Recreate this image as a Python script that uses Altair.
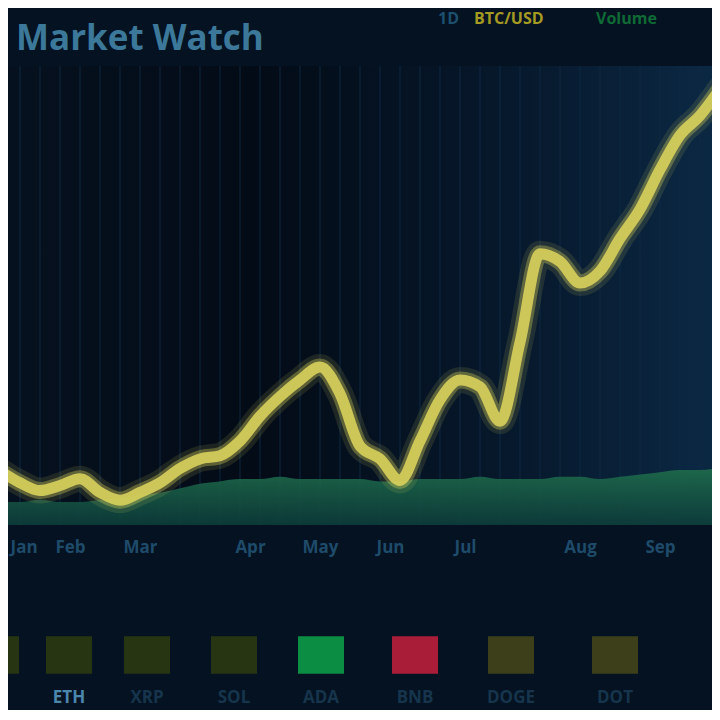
import altair as alt
import pandas as pd

# ---------------- data ----------------
chart_title = "Market Watch"

days = list(range(37))
price = [11.8, 9.2, 7.5, 8.6, 10.1, 7.1, 5.4, 7.1, 9.2, 12.3, 14.4, 15.1, 18.3,
         23.7, 28.0, 31.6, 34.4, 28.6, 17.2, 14.4, 9.7, 18.3, 27.3, 31.6, 30.1,
         22.6, 39.8, 59.1, 57.4, 52.7, 55.3, 62.4, 68.8, 77.4, 84.9, 89.2, 95.0]
volume = [5.0, 5.0, 5.5, 5.0, 5.0, 5.5, 6.0, 6.5, 7.0, 8.0, 9.0, 9.5, 10.0,
          10.0, 10.5, 10.0, 10.0, 10.0, 10.0, 9.5, 9.5, 10.0, 10.0, 10.0, 10.5,
          10.0, 10.0, 10.0, 10.5, 10.5, 10.0, 10.5, 11.0, 11.5, 12.0, 12.0, 12.5]

tick_days = [0.5, 3.5, 7, 12.5, 16, 19.5, 23.25, 29, 33]
tick_labels = ["Jan", "Feb", "Mar", "Apr", "May", "Jun", "Jul", "Aug", "Sep"]

header_names = ["1D", "BTC/USD", "Volume"]
header_days = [21.9, 23.7, 29.8]

signal_names = ["BTC", "ETH", "XRP", "SOL", "ADA", "BNB", "DOGE", "DOT"]
signal_days = [-0.2, 3.45, 7.35, 11.7, 16.05, 20.75, 25.55, 30.75]
signal_state = ["weak", "weak", "weak", "weak", "up", "down", "flat", "flat"]

# ---------------- chart ----------------
series = pd.DataFrame({"day": days, "price": price, "volume": volume})
ticks_js = "[" + ",".join(str(t) for t in tick_days) + "]"
labels_js = "[" + ",".join("'" + t + "'" for t in tick_labels) + "]"

x_scale = alt.Scale(domain=[0.4, 35.6], nice=False, zero=False)
y_scale = alt.Scale(domain=[0, 100], nice=False, zero=False)
x_axis = alt.Axis(values=tick_days, labelExpr=f"{labels_js}[indexof({ticks_js}, datum.value)]",
                  title=None, domain=False, ticks=False, grid=False,
                  labelColor="#1f4b6a", labelFontSize=17, labelFontWeight="bold",
                  labelFont="Open Sans", labelPadding=14, labelFlush=20)
x_enc = alt.X("day:Q", scale=x_scale, axis=x_axis)

bg = alt.Chart(pd.DataFrame({"k": [0]})).mark_rect(
    color=alt.Gradient(gradient="linear", x1=0, y1=0, x2=1, y2=0,
                       stops=[alt.GradientStop(color="#06111f", offset=0),
                              alt.GradientStop(color="#030b16", offset=0.35),
                              alt.GradientStop(color="#071a2e", offset=0.75),
                              alt.GradientStop(color="#0b2843", offset=1)])
).encode(x=alt.value(0), x2=alt.value(704), y=alt.value(0), y2=alt.value(459))

grid = alt.Chart(pd.DataFrame({"day": days})).mark_rule(
    color="#0f2b44", strokeWidth=2, opacity=0.45, clip=True
).encode(x=x_enc)

area = alt.Chart(series).mark_area(
    interpolate="monotone", clip=True, opacity=0.9,
    color=alt.Gradient(gradient="linear", x1=0, y1=0, x2=0, y2=1,
                       stops=[alt.GradientStop(color="#1f6e4c", offset=0),
                              alt.GradientStop(color="#0d3d3a", offset=1)])
).encode(x=x_enc, y=alt.Y("volume:Q", scale=y_scale, axis=None))

def price_line(width, opacity, color):
    return alt.Chart(series).mark_line(
        interpolate="monotone", clip=True, strokeWidth=width, opacity=opacity,
        color=color, strokeCap="round", strokeJoin="round"
    ).encode(x=x_enc, y=alt.Y("price:Q", scale=y_scale, axis=None))

main = alt.layer(
    bg, grid, area,
    price_line(26, 0.12, "#e0d860"),
    price_line(17, 0.35, "#d8d058"),
    price_line(11, 0.9, "#d9d25c"),
).properties(width=704, height=459)

header_df = pd.DataFrame({"name": header_names, "day": header_days})
title_text = alt.Chart(pd.DataFrame({"t": [chart_title]})).mark_text(
    align="left", baseline="middle", fontSize=35, fontWeight="bold",
    font="Open Sans", color="#3b7899"
).encode(x=alt.value(8), y=alt.value(31), text="t:N")
header_legend = alt.Chart(header_df).mark_text(
    align="left", baseline="middle", fontSize=16, fontWeight="bold",
    font="Open Sans"
).encode(
    x=alt.X("day:Q", scale=x_scale, axis=None), y=alt.value(11), text="name:N",
    color=alt.Color("name:N", legend=None,
                    scale=alt.Scale(domain=header_names,
                                    range=["#1d4f6e", "#a59a22", "#0f6a35"]))
)
header = alt.layer(title_text, header_legend).properties(width=704, height=58)

sig_df = pd.DataFrame({"name": signal_names, "day": signal_days, "state": signal_state})
boxes = alt.Chart(sig_df).mark_point(
    shape="M-1,-0.82H1V0.82H-1Z", filled=True, size=2116, opacity=0.9,
    strokeWidth=6, strokeOpacity=0.35, clip=True
).encode(
    x=alt.X("day:Q", scale=x_scale, axis=None), y=alt.value(100),
    color=alt.Color("state:N", legend=None,
                    scale=alt.Scale(domain=["weak", "up", "down", "flat"],
                                    range=["#2b3a12", "#0c9c48", "#bc1f3c", "#42451a"]))
)
sig_labels = alt.Chart(sig_df).transform_filter(alt.datum.day > 1).mark_text(
    fontSize=17, fontWeight="bold", font="Open Sans", baseline="middle"
).encode(
    x=alt.X("day:Q", scale=x_scale, axis=None), y=alt.value(143), text="name:N",
    color=alt.condition(alt.datum.name == "ETH", alt.value("#4b87ad"), alt.value("#16354c"))
)
footer = alt.layer(boxes, sig_labels).properties(width=704, height=155)

chart = alt.vconcat(header, main, footer, spacing=0).resolve_scale(
    color="independent", x="independent"
).properties(
    background="#041221", padding=0
).configure_view(strokeWidth=0)

chart.save("out.html", embed_options={"renderer": "svg", "actions": False})
